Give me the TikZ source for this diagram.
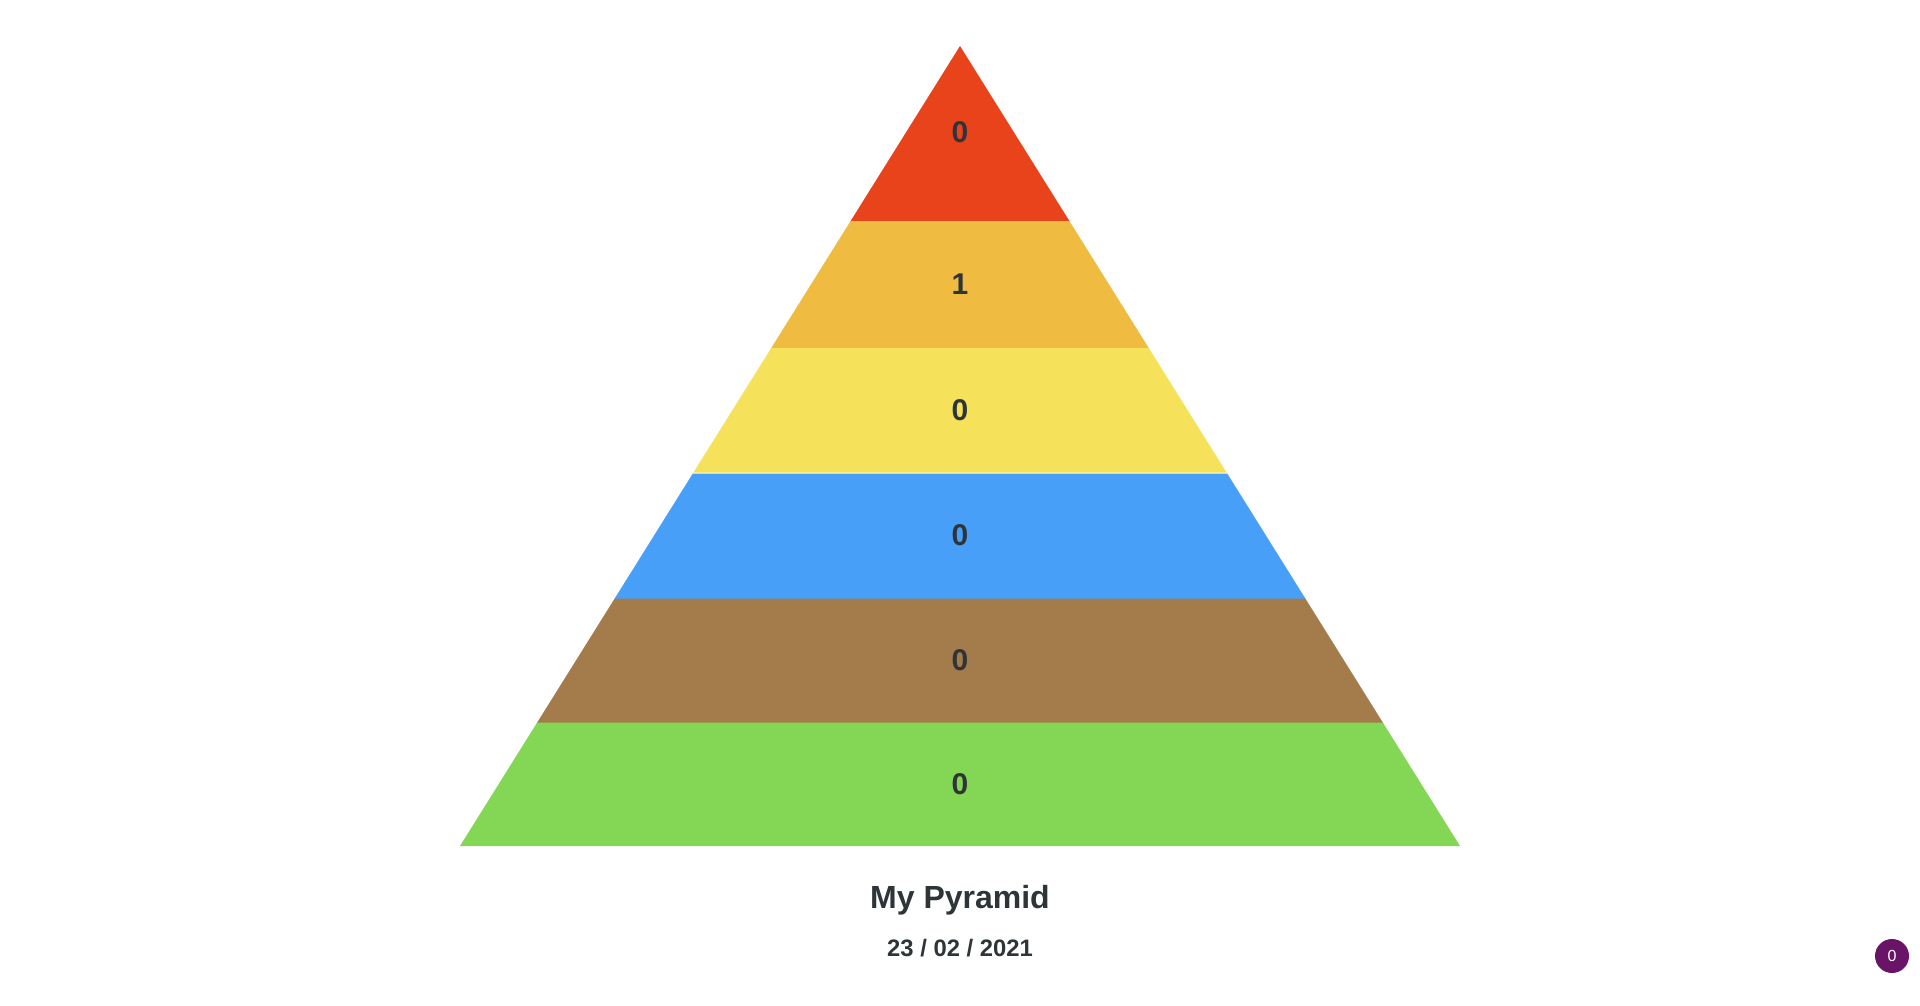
\documentclass[tikz,border=0pt]{standalone}
\usepackage{fontspec}
\setmainfont{Liberation Sans}
\definecolor{cRed}{HTML}{E8431A}
\definecolor{cOrange}{HTML}{EFBB40}
\definecolor{cYellow}{HTML}{F5E25A}
\definecolor{cBlue}{HTML}{479FF7}
\definecolor{cBrown}{HTML}{A47B4B}
\definecolor{cGreen}{HTML}{84D755}
\definecolor{cText}{HTML}{2E3538}
\definecolor{cPurple}{HTML}{6A1468}
\begin{document}
\begin{tikzpicture}[x=1pt,y=-1pt,
  lbl/.style={font=\fontsize{30}{30}\selectfont\bfseries, text=cText, inner sep=0pt}]
\useasboundingbox (0,0) rectangle (1920,1006);
\fill[white] (0,0) rectangle (1920,1006);
% pyramid: apex (960,46), base y=846, half width 500; slope 0.625
\def\hw#1{0.625*(#1-46)}
\newcommand\pyrband[3]{\fill[#1] ({960-\hw{#2}},#2) -- ({960+\hw{#2}},#2) -- ({960+\hw{#3}},#3) -- ({960-\hw{#3}},#3) -- cycle;}
\fill[cRed] (960,46) -- ({960+\hw{222}},222) -- ({960-\hw{222}},222) -- cycle;
\pyrband{cOrange}{221}{349}
\pyrband{cYellow}{348}{472.5}
\pyrband{cBlue}{473.5}{599.5}
\pyrband{cBrown}{598.5}{723.5}
\pyrband{cGreen}{722.5}{846}
\node[lbl] (l1) at (960,132) {0};
\node[lbl] (l2) at (960,284) {1};
\node[lbl] (l3) at (960,410) {0};
\node[lbl] (l4) at (960,535) {0};
\node[lbl] (l5) at (960,660) {0};
\node[lbl] (l6) at (960,784) {0};
\node[font=\fontsize{32}{32}\selectfont\bfseries, text=cText, inner sep=0pt] (title) at (960,900) {My Pyramid};
\node[font=\fontsize{23.8}{24}\selectfont\bfseries, text=cText, inner sep=0pt] (date) at (960,948) {23 / 02 / 2021};
\node[circle, fill=cPurple, minimum size=34pt, inner sep=0pt, text=white, font=\fontsize{16}{16}\selectfont] (badge) at (1892,956) {0};
\end{tikzpicture}
\end{document}
